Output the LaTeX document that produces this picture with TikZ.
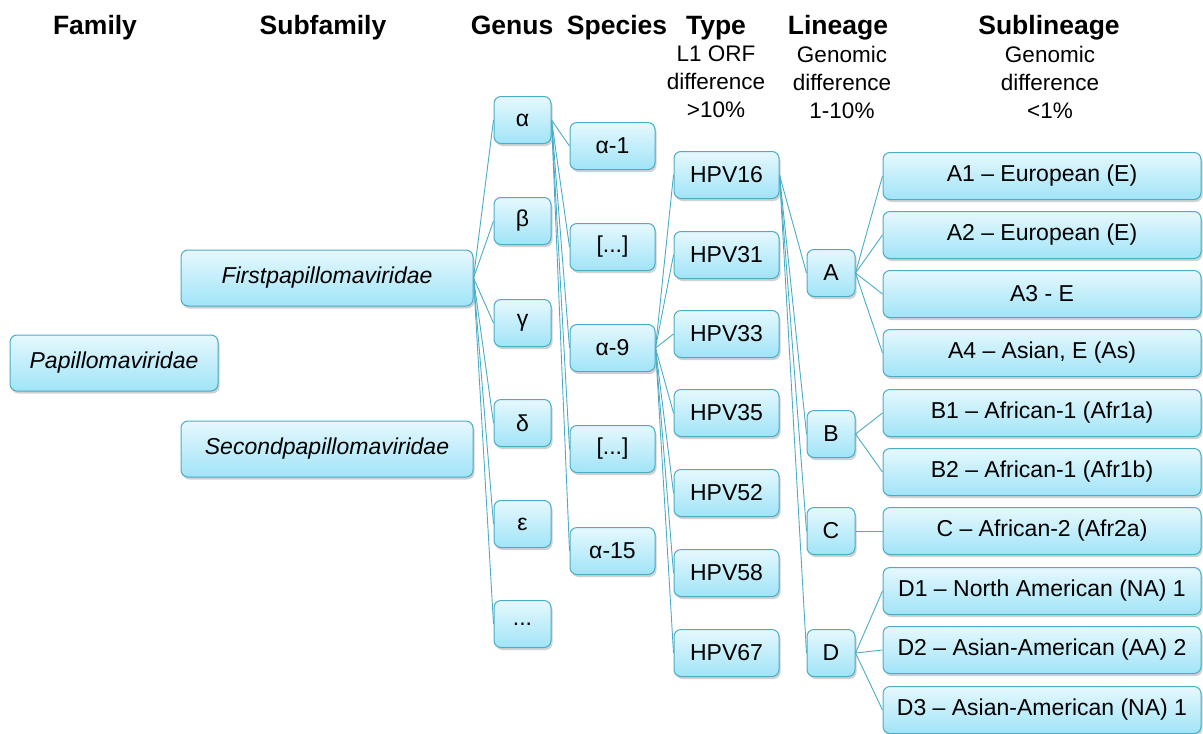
\documentclass[tikz,border=0pt]{standalone}
\usepackage{fontspec}
\setmainfont{Liberation Sans}
\usetikzlibrary{shadows}

\definecolor{boxline}{RGB}{75,172,198}
\definecolor{boxtop}{RGB}{230,248,253}
\definecolor{boxbot}{RGB}{160,228,248}
\definecolor{linkcol}{RGB}{75,172,198}

\newcommand{\moredots}{...}

\tikzset{
  box/.style={draw=boxline, line width=1pt, rounded corners=7pt,
    top color=boxtop, bottom color=boxbot,
    drop shadow={shadow xshift=1.5pt, shadow yshift=-2.5pt, fill=black!40, opacity=.45},
    minimum height=47pt, inner sep=0pt, font=\fontsize{23}{27}\selectfont},
  link/.style={draw=linkcol, line width=0.9pt},
  head/.style={font=\fontsize{26.5}{30}\selectfont\bfseries, anchor=base},
  subhead/.style={font=\fontsize{22.5}{28}\selectfont, align=center},
}

\begin{document}
\begin{tikzpicture}[x=1pt, y=-1pt]
    \useasboundingbox (0,0) rectangle (1203,734);
    % column headings
    \foreach \x/\t in {95/Family, 323/Subfamily, 512/Genus, 617/Species,
                       716/Type, 838/Lineage, 1049/Sublineage}
        \node[head] (h\t) at (\x,34) {\t};
    \node[subhead] (dType) at (716,82) {L1 ORF\\difference\\>10\%};
    \node[subhead] (dLineage) at (842,82) {Genomic\\difference\\1-10\%};
    \node[subhead] (dSublineage) at (1050,82) {Genomic\\difference\\<1\%};

    % family and subfamilies
    \node[box, minimum width=208pt, minimum height=56pt] (fam) at (114,363) {\itshape Papillomaviridae};
    \node[box, minimum width=292pt, minimum height=56pt] (sub1) at (327,278) {\itshape Firstpapillomaviridae};
    \node[box, minimum width=292pt, minimum height=56pt] (sub2) at (327,449) {\itshape Secondpapillomaviridae};

    % genera
    \foreach \n/\y/\t in {1/120/α, 2/221/β, 3/323/γ, 4/423/δ, 5/524/ε, 6/624/\moredots}
        \node[box, minimum width=57pt] (g\n) at (522.5,\y) {\t};
    % species
    \foreach \n/\y/\t in {1/146/α-1, 2/247/{[\moredots]}, 3/348/α-9, 4/449/{[\moredots]}, 5/551/α-15}
        \node[box, minimum width=85pt] (s\n) at (612.5,\y) {\t};
    % types
    \foreach \n/\y/\t in {1/175/HPV16, 2/255/HPV31, 3/334/HPV33, 4/413/HPV35,
                          5/493/HPV52, 6/573/HPV58, 7/653/HPV67}
        \node[box, minimum width=105pt] (t\n) at (726.5,\y) {\t};
    % lineages
    \foreach \n/\y in {A/273, B/434, C/531, D/653}
        \node[box, minimum width=48pt] (l\n) at (831,\y) {\n};
    % sublineages
    \foreach \n/\y/\t in {A1/176/{A1 – European (E)}, A2/235/{A2 – European (E)},
                          A3/294/{A3 - E}, A4/353/{A4 – Asian, E (As)},
                          B1/413/{B1 – African-1 (Afr1a)}, B2/472/{B2 – African-1 (Afr1b)},
                          C/531/{C – African-2 (Afr2a)},
                          D1/591/{D1 – North American (NA) 1},
                          D2/650/{D2 – Asian-American (AA) 2},
                          D3/710/{D3 – Asian-American (NA) 1}}
        \node[box, minimum width=318pt] (sl\n) at (1042,\y) {\t};

    % connectors
    \foreach \n in {1,...,6}
        \draw[link] (sub1.east) -- (g\n.west);
    \foreach \n in {1,...,5}
        \draw[link] (g1.east) -- (s\n.west);
    \foreach \n in {1,...,7}
        \draw[link] (s3.east) -- (t\n.west);
    \foreach \n in {A,B,C,D}
        \draw[link] (t1.east) -- (l\n.west);
    \foreach \a/\b in {A/A1, A/A2, A/A3, A/A4, B/B1, B/B2, C/C, D/D1, D/D2, D/D3}
        \draw[link] (l\a.east) -- (sl\b.west);
\end{tikzpicture}
\end{document}
